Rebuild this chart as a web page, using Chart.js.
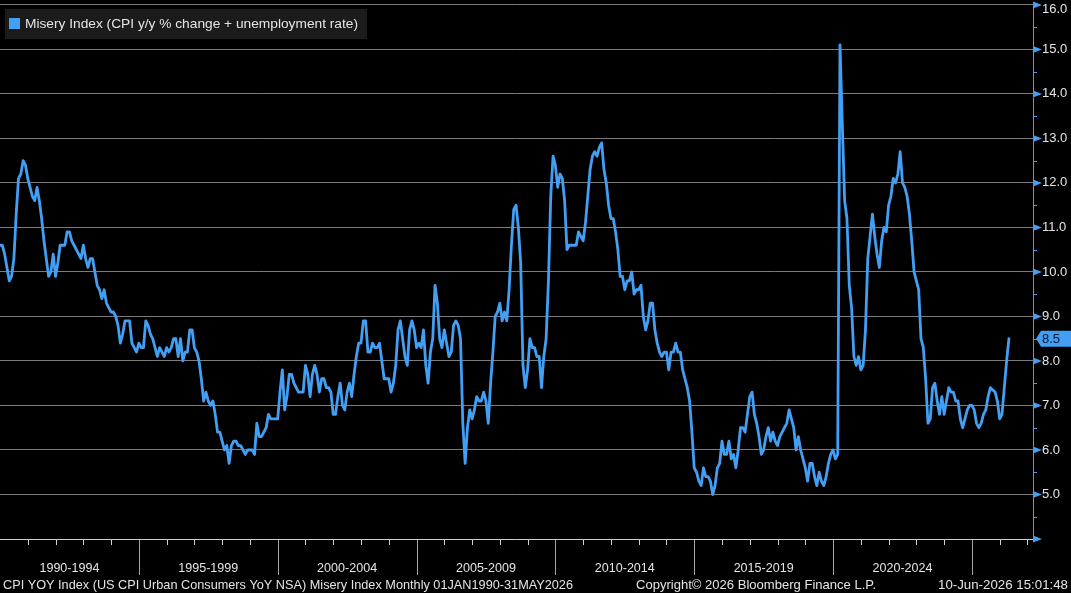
<!DOCTYPE html>
<html>
<head>
<meta charset="utf-8">
<script src="https://cdn.jsdelivr.net/npm/chart.js@4.4.1/dist/chart.umd.min.js"></script>
<style>
html,body{margin:0;padding:0;background:#000;overflow:hidden}
#wrap{width:1071px;height:593px;position:relative}
canvas{display:block}
</style>
</head>
<body>
<div id="wrap"><canvas id="c" width="1071" height="593"></canvas></div>
<script>
// ---- data (monthly Misery Index, Jan 1990 .. May 2026) ----
const startYear = 1990;
const seriesLabel = 'Misery Index (CPI y/y % change + unemployment rate)';
const periodLabels = ['1990-1994','1995-1999','2000-2004','2005-2009','2010-2014','2015-2019','2020-2024'];

const misery1990_1994 = [
10.6,10.6,10.4,10.1,9.8,9.9,10.3,11.3,12.1,12.2,12.5,12.4,
12.1,11.9,11.7,11.6,11.9,11.6,11.2,10.7,10.3,9.9,10.0,10.4,
9.9,10.2,10.6,10.6,10.6,10.9,10.9,10.7,10.6,10.5,10.4,10.3,
10.6,10.3,10.1,10.3,10.3,10.0,9.7,9.6,9.4,9.6,9.3,9.2,
9.1,9.1,9.0,8.8,8.4,8.6,8.9,8.9,8.9,8.4,8.3,8.2];
const misery1995_1999 = [
8.4,8.3,8.3,8.9,8.8,8.6,8.5,8.3,8.1,8.3,8.2,8.1,
8.3,8.2,8.3,8.5,8.5,8.1,8.5,8.0,8.2,8.2,8.7,8.7,
8.3,8.2,8.0,7.6,7.1,7.3,7.1,7.0,7.1,6.8,6.4,6.4,
6.2,6.0,6.1,5.7,6.1,6.2,6.2,6.1,6.1,6.0,5.9,6.0,
6.0,6.0,5.9,6.6,6.3,6.3,6.4,6.5,6.8,6.7,6.7,6.7];
const misery2000_2004 = [
6.7,7.3,7.8,6.9,7.2,7.7,7.7,7.5,7.4,7.3,7.3,7.3,
7.9,7.7,7.2,7.7,7.9,7.7,7.3,7.6,7.6,7.4,7.4,7.3,
6.8,6.8,7.2,7.5,7.0,6.9,7.3,7.5,7.2,7.7,8.1,8.4,
8.4,8.9,8.9,8.2,8.2,8.4,8.3,8.3,8.4,8.0,7.6,7.6,
7.6,7.3,7.5,7.9,8.7,8.9,8.5,8.1,7.9,8.7,8.9,8.7];
const misery2005_2009 = [
8.3,8.4,8.3,8.7,7.9,7.5,8.2,8.5,9.7,9.3,8.5,8.3,
8.7,8.4,8.1,8.2,8.8,8.9,8.8,8.5,6.6,5.7,6.5,6.9,
6.7,6.9,7.2,7.1,7.1,7.3,7.1,6.6,7.5,8.2,9.0,9.1,
9.3,8.9,9.1,8.9,9.6,10.6,11.4,11.5,11.0,10.2,7.9,7.4,
7.8,8.5,8.3,8.3,8.1,8.1,7.4,8.1,8.5,9.8,11.7,12.6];
const misery2010_2014 = [
12.4,11.9,12.2,12.1,11.6,10.5,10.6,10.6,10.6,10.6,10.9,10.8,
10.7,11.1,11.7,12.3,12.6,12.7,12.6,12.8,12.9,12.3,12.0,11.5,
11.2,11.2,10.9,10.5,9.9,9.9,9.6,9.8,9.8,10.0,9.5,9.6,
9.6,9.7,9.0,8.7,8.9,9.3,9.3,8.7,8.4,8.2,8.1,8.2,
8.2,7.8,8.2,8.2,8.4,8.2,8.2,7.8,7.6,7.4,7.1,6.4];
const misery2015_2019 = [
5.6,5.5,5.3,5.2,5.6,5.4,5.4,5.3,5.0,5.2,5.6,5.7,
6.2,5.9,5.9,6.2,5.8,5.9,5.6,6.0,6.5,6.5,6.4,6.8,
7.2,7.3,6.8,6.6,6.3,5.9,6.0,6.3,6.5,6.2,6.4,6.2,
6.1,6.3,6.4,6.5,6.6,6.9,6.7,6.5,6.0,6.3,6.0,5.8,
5.6,5.3,5.7,5.7,5.4,5.2,5.5,5.3,5.2,5.4,5.7,5.9];
const misery2020_2024 = [
6.0,5.8,5.9,15.1,13.3,11.6,11.2,9.7,9.2,8.1,7.9,8.1,
7.8,7.9,8.7,10.3,10.8,11.3,10.8,10.4,10.1,10.7,11.0,10.9,
11.5,11.7,12.1,12.0,12.2,12.7,12.0,11.9,11.7,11.3,10.7,10.0,
9.8,9.6,8.5,8.3,7.6,6.6,6.7,7.4,7.5,7.1,6.8,7.2,
6.8,7.1,7.4,7.3,7.3,7.1,7.1,6.7,6.5,6.7,6.9,7.0];
const misery2025_2026 = [
7.0,6.9,6.6,6.5,6.6,6.8,6.9,7.2,7.4,7.35,7.3,7.1,
6.7,6.8,7.4,8.0,8.5];

const footerLeft = 'CPI YOY Index (US CPI Urban Consumers YoY NSA) Misery Index Monthly 01JAN1990-31MAY2026';
const footerMid = 'Copyright\u00A9 2026 Bloomberg Finance L.P.';
const footerRight = '10-Jun-2026 15:01:48';

// ---- build ----
const values = [].concat(misery1990_1994, misery1995_1999, misery2000_2004,
  misery2005_2009, misery2010_2014, misery2015_2019, misery2020_2024, misery2025_2026);
const points = values.map((v, i) => ({x: i, y: v}));

const lineColor = '#429ff3';
const textColor = '#e4e4e4';
const FONT = '"Liberation Sans", Arial, sans-serif';

// draw text stretched/condensed to a target width
function fitText(ctx, text, x, y, width, align) {
  const w = ctx.measureText(text).width;
  const sx = width / w;
  ctx.save();
  ctx.textAlign = 'left';
  let left = x;
  if (align === 'center') left = x - width / 2;
  else if (align === 'right') left = x - width;
  ctx.translate(left, y);
  ctx.scale(sx, 1);
  ctx.fillText(text, 0, 0);
  ctx.restore();
}

const decor = {
  id: 'decor',
  afterDraw(chart) {
    const {ctx, chartArea: a, scales: {x, y}} = chart;
    ctx.save();
    // x axis baseline
    ctx.lineWidth = 1;
    ctx.strokeStyle = '#cfcfcf';
    ctx.beginPath();
    ctx.moveTo(0, Math.round(a.bottom) + 0.5);
    ctx.lineTo(a.right, Math.round(a.bottom) + 0.5);
    ctx.stroke();
    // yearly ticks and 5-year separators
    for (let yr = startYear; ; yr++) {
      const px = Math.round(x.getPixelForValue((yr - startYear) * 12)) + 0.5;
      if (px > a.right) break;
      if (px < 1) continue;
      const major = (yr - startYear) % 5 === 0;
      ctx.strokeStyle = major ? '#a9a9a9' : '#cfcfcf';
      ctx.beginPath();
      ctx.moveTo(px, Math.round(a.bottom) + 1);
      ctx.lineTo(px, Math.round(a.bottom) + (major ? 36 : 6));
      ctx.stroke();
    }
    // period labels
    ctx.fillStyle = textColor;
    ctx.font = '13px ' + FONT;
    ctx.textBaseline = 'middle';
    periodLabels.forEach((lab, i) => {
      fitText(ctx, lab, x.getPixelForValue(i * 60 + 30), 568, 60, 'center');
    });
    // footer
    fitText(ctx, footerLeft, 3, 585, 570, 'left');
    fitText(ctx, footerMid, 636, 585, 240, 'left');
    fitText(ctx, footerRight, 1068, 585, 130, 'right');

    // top tick label (nudged inside like the reference)
    ctx.textAlign = 'left';
    ctx.fillText(Number(y.max).toFixed(1), a.right + 9, 9.5);

    // y-axis arrows and minor ticks
    ctx.fillStyle = lineColor;
    ctx.strokeStyle = lineColor;
    for (let v = y.min; v <= y.max; v += 1) {
      const py = y.getPixelForValue(v);
      ctx.beginPath();
      ctx.moveTo(a.right, py - 3.5);
      ctx.lineTo(a.right + 9, py);
      ctx.lineTo(a.right, py + 3.5);
      ctx.closePath();
      ctx.fill();
      if (v < y.max) {
        const pm = Math.round(y.getPixelForValue(v + 0.5)) + 0.5;
        ctx.beginPath();
        ctx.moveTo(a.right, pm);
        ctx.lineTo(a.right + 4, pm);
        ctx.stroke();
      }
    }
    // last value tag
    const last = values[values.length - 1];
    const ly = y.getPixelForValue(last);
    ctx.fillStyle = lineColor;
    ctx.beginPath();
    ctx.moveTo(a.right + 3, ly);
    ctx.lineTo(a.right + 8, ly - 8);
    ctx.lineTo(1071, ly - 8);
    ctx.lineTo(1071, ly + 8);
    ctx.lineTo(a.right + 8, ly + 8);
    ctx.closePath();
    ctx.fill();
    ctx.fillStyle = '#08182e';
    ctx.textAlign = 'left';
    ctx.textBaseline = 'middle';
    ctx.font = '13px ' + FONT;
    ctx.fillText(last.toFixed(1), a.right + 9, ly + 0.5);

    // legend
    ctx.fillStyle = '#1b1b1b';
    ctx.fillRect(5, 9, 362, 30);
    ctx.fillStyle = lineColor;
    ctx.fillRect(9, 18, 11, 11);
    ctx.fillStyle = textColor;
    fitText(ctx, seriesLabel, 25, 24.5, 333, 'left');
    ctx.restore();
  }
};

new Chart(document.getElementById('c'), {
  type: 'line',
  data: {
    datasets: [{
      label: seriesLabel,
      data: points,
      borderColor: lineColor,
      backgroundColor: lineColor,
      borderWidth: 2.8,
      pointRadius: 0,
      tension: 0,
      borderJoinStyle: 'round',
      borderCapStyle: 'round'
    }]
  },
  options: {
    responsive: false,
    animation: false,
    devicePixelRatio: 1,
    layout: {padding: {left: 0, top: 0, right: 0, bottom: 54}},
    plugins: {legend: {display: false}, tooltip: {enabled: false}},
    scales: {
      x: {
        type: 'linear',
        min: 0,
        max: 446.4,
        display: false
      },
      y: {
        position: 'right',
        min: 4,
        max: 16,
        ticks: {
          stepSize: 1,
          color: textColor,
          padding: 0,
          font: {family: FONT, size: 13, lineHeight: 0.75},
          callback: v => (v === 4 || v === 16 ? '' : Number(v).toFixed(1))
        },
        grid: {
          color: '#7c7c7c',
          lineWidth: 1,
          drawTicks: true,
          tickLength: 9,
          tickColor: 'rgba(0,0,0,0)'
        },
        border: {display: true, color: lineColor, width: 1},
        afterFit(s) { s.width = 38; }
      }
    }
  },
  plugins: [decor]
});
</script>
</body>
</html>
